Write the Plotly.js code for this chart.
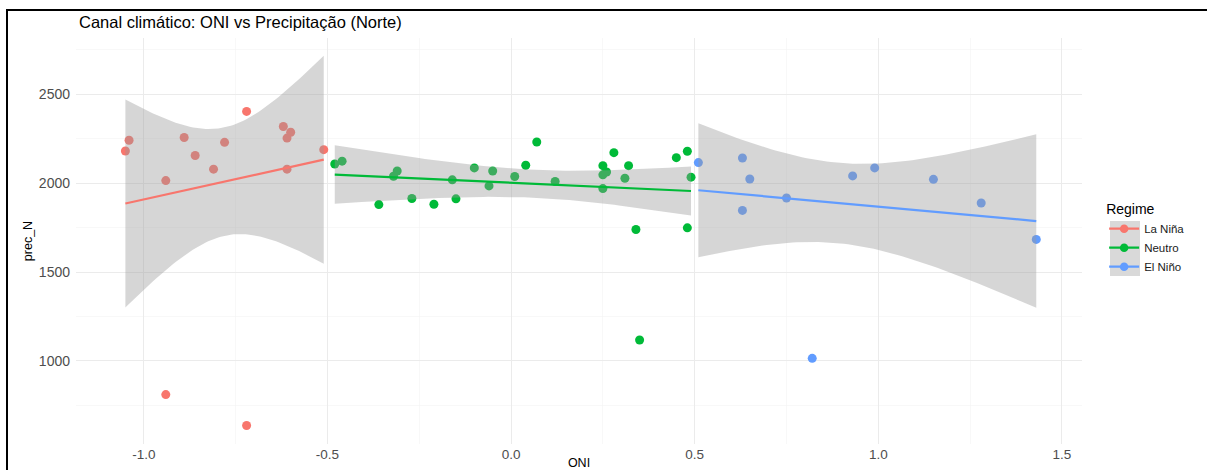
<!DOCTYPE html>
<html>
<head>
<meta charset="utf-8">
<script src="https://cdn.plot.ly/plotly-3.0.1.min.js"></script>
<style>
  html, body { margin: 0; padding: 0; background: #fff; }
  #chart { width: 1207px; height: 470px; }
  #frame { position: absolute; left: 6px; top: 9px; width: 1300px; height: 600px;
           border-left: 2px solid #000; border-top: 2px solid #000; pointer-events: none; }
</style>
</head>
<body>
<div id="chart"></div>
<div id="frame"></div>
<script>
// ---- Data ----
const regimes = ["La Niña", "Neutro", "El Niño"];
const regimeColors = ["#F8766D", "#00BA38", "#619CFF"];

const laNinaONI  = [-1.05, -1.04, -0.89, -0.94, -0.86, -0.81, -0.78, -0.72, -0.62, -0.60, -0.61, -0.61, -0.51, -0.94, -0.72];
const laNinaPrec = [2181, 2242, 2257, 2015, 2156, 2079, 2230, 2404, 2319, 2287, 2254, 2079, 2189, 811, 637];

const neutroONI  = [-0.48, -0.46, -0.32, -0.31, -0.36, -0.27, -0.21, -0.16, -0.15, -0.10, -0.05, -0.06, 0.01, 0.04, 0.07, 0.12, 0.25, 0.26, 0.25, 0.25, 0.28, 0.32, 0.31, 0.34, 0.35, 0.45, 0.48, 0.49, 0.48];
const neutroPrec = [2108, 2124, 2039, 2069, 1880, 1914, 1882, 2019, 1912, 2086, 2069, 1985, 2038, 2101, 2232, 2010, 2099, 2063, 2047, 1970, 2172, 2099, 2028, 1740, 1118, 2144, 2180, 2034, 1749];

const elNinoONI  = [0.51, 0.63, 0.65, 0.63, 0.75, 0.82, 0.93, 0.99, 1.15, 1.28, 1.43];
const elNinoPrec = [2116, 2142, 2024, 1847, 1917, 1015, 2041, 2086, 2022, 1889, 1684];

const xTickVals = [-1.0, -0.5, 0.0, 0.5, 1.0, 1.5];
const xTickText = ["-1.0", "-0.5", "0.0", "0.5", "1.0", "1.5"];
const yTickVals = [1000, 1500, 2000, 2500];
const yTickText = ["1000", "1500", "2000", "2500"];

const groups = [
  {x: laNinaONI, y: laNinaPrec},
  {x: neutroONI, y: neutroPrec},
  {x: elNinoONI, y: elNinoPrec}
];

// ---- linear model with 95% confidence band (like geom_smooth(method="lm")) ----
function tQuant975(df) {
  const z = 1.959963985;
  const z3 = z*z*z, z5 = z3*z*z, z7 = z5*z*z, z9 = z7*z*z;
  const g1 = (z3 + z) / 4;
  const g2 = (5*z5 + 16*z3 + 3*z) / 96;
  const g3 = (3*z7 + 19*z5 + 17*z3 - 15*z) / 384;
  const g4 = (79*z9 + 776*z7 + 1482*z5 - 1920*z3 - 945*z) / 92160;
  return z + g1/df + g2/(df*df) + g3/(df*df*df) + g4/(df*df*df*df);
}
function lmFit(xs, ys, nOut) {
  const n = xs.length;
  const mx = xs.reduce((a,b)=>a+b,0)/n, my = ys.reduce((a,b)=>a+b,0)/n;
  let sxx = 0, sxy = 0;
  for (let i=0;i<n;i++){ sxx += (xs[i]-mx)**2; sxy += (xs[i]-mx)*(ys[i]-my); }
  const b = sxy/sxx, a = my - b*mx;
  let sse = 0;
  for (let i=0;i<n;i++){ sse += (ys[i] - (a + b*xs[i]))**2; }
  const s = Math.sqrt(sse/(n-2));
  const t = tQuant975(n-2);
  const xmin = Math.min(...xs), xmax = Math.max(...xs);
  const gx = [], fit = [], lo = [], hi = [];
  for (let k=0;k<nOut;k++){
    const xv = xmin + (xmax-xmin)*k/(nOut-1);
    const f = a + b*xv;
    const se = s*Math.sqrt(1/n + (xv-mx)**2/sxx);
    gx.push(xv); fit.push(f); lo.push(f - t*se); hi.push(f + t*se);
  }
  return {gx, fit, lo, hi};
}

const traces = [];
// points
groups.forEach((g, i) => {
  traces.push({
    type: "scatter", mode: "markers", x: g.x, y: g.y,
    marker: {color: regimeColors[i], size: 9, line: {width: 0}},
    showlegend: false, hoverinfo: "skip", cliponaxis: false
  });
});
// ribbons + lines
groups.forEach((g, i) => {
  const m = lmFit(g.x, g.y, 80);
  traces.push({
    type: "scatter", mode: "lines",
    x: m.gx.concat(m.gx.slice().reverse()),
    y: m.hi.concat(m.lo.slice().reverse()),
    fill: "toself", fillcolor: "rgba(153,153,153,0.4)",
    line: {width: 0, color: "rgba(0,0,0,0)"},
    showlegend: false, hoverinfo: "skip"
  });
  traces.push({
    type: "scatter", mode: "lines", x: m.gx, y: m.fit,
    line: {color: regimeColors[i], width: 2.2},
    showlegend: false, hoverinfo: "skip"
  });
});
// legend entries
regimes.forEach((r, i) => {
  traces.push({
    type: "scatter", mode: "lines+markers", x: [null], y: [null], name: r,
    line: {color: regimeColors[i], width: 2.2},
    marker: {color: regimeColors[i], size: 8.5},
    showlegend: true, hoverinfo: "skip"
  });
});

const font = "Liberation Sans, Arial, sans-serif";
const layout = {
  width: 1207, height: 470,
  margin: {l: 76, r: 125, t: 38, b: 26, pad: 0},
  paper_bgcolor: "#ffffff", plot_bgcolor: "#ffffff",
  font: {family: font, color: "#000"},
  title: {
    text: "Canal climático: ONI vs Precipitação (Norte)",
    font: {family: font, size: 16.5, color: "#000"},
    xref: "paper", x: 3/1006, xanchor: "left",
    yref: "container", y: 1 - 22/470, yanchor: "middle"
  },
  xaxis: {
    range: [-1.1845, 1.5545], showline: false, zeroline: false,
    tickmode: "array", tickvals: xTickVals, ticktext: xTickText,
    ticks: "", tickfont: {family: font, size: 13.5, color: "#4D4D4D"},
    showgrid: true, gridcolor: "#EBEBEB", gridwidth: 1,
    minor: {tickmode: "array", tickvals: [-0.75, -0.25, 0.25, 0.75, 1.25], showgrid: true, gridcolor: "#F4F4F4", gridwidth: 0.6, ticks: ""},
    title: {text: "ONI", font: {family: font, size: 12.5, color: "#000"}, standoff: 8}
  },
  yaxis: {
    range: [533, 2817], showline: false, zeroline: false,
    tickmode: "array", tickvals: yTickVals, ticktext: yTickText,
    ticks: "", tickfont: {family: font, size: 14, color: "#4D4D4D"},
    ticklabelstandoff: 5,
    showgrid: true, gridcolor: "#EBEBEB", gridwidth: 1,
    minor: {tickmode: "array", tickvals: [750, 1250, 1750, 2250, 2750], showgrid: true, gridcolor: "#F4F4F4", gridwidth: 0.6, ticks: ""},
    title: {text: "prec_N", font: {family: font, size: 12.5, color: "#000"}, standoff: 3}
  },
  legend: {
    x: 1.022, xanchor: "left", y: 0.611, yanchor: "top",
    bgcolor: "rgba(0,0,0,0)", borderwidth: 0,
    title: {text: "Regime", font: {family: font, size: 14, color: "#000"}},
    font: {family: font, size: 11.5, color: "#1a1a1a"},
    tracegroupgap: 0, itemwidth: 30
  },
  shapes: [{
    type: "rect", xref: "paper", yref: "paper",
    x0: (1110-76)/1006, x1: (1140-76)/1006, y0: (444-276)/406, y1: (444-221)/406,
    fillcolor: "#D9D9D9", line: {width: 0}, layer: "below"
  }]
};

Plotly.newPlot("chart", traces, layout, {displayModeBar: false, staticPlot: true});
</script>
</body>
</html>
